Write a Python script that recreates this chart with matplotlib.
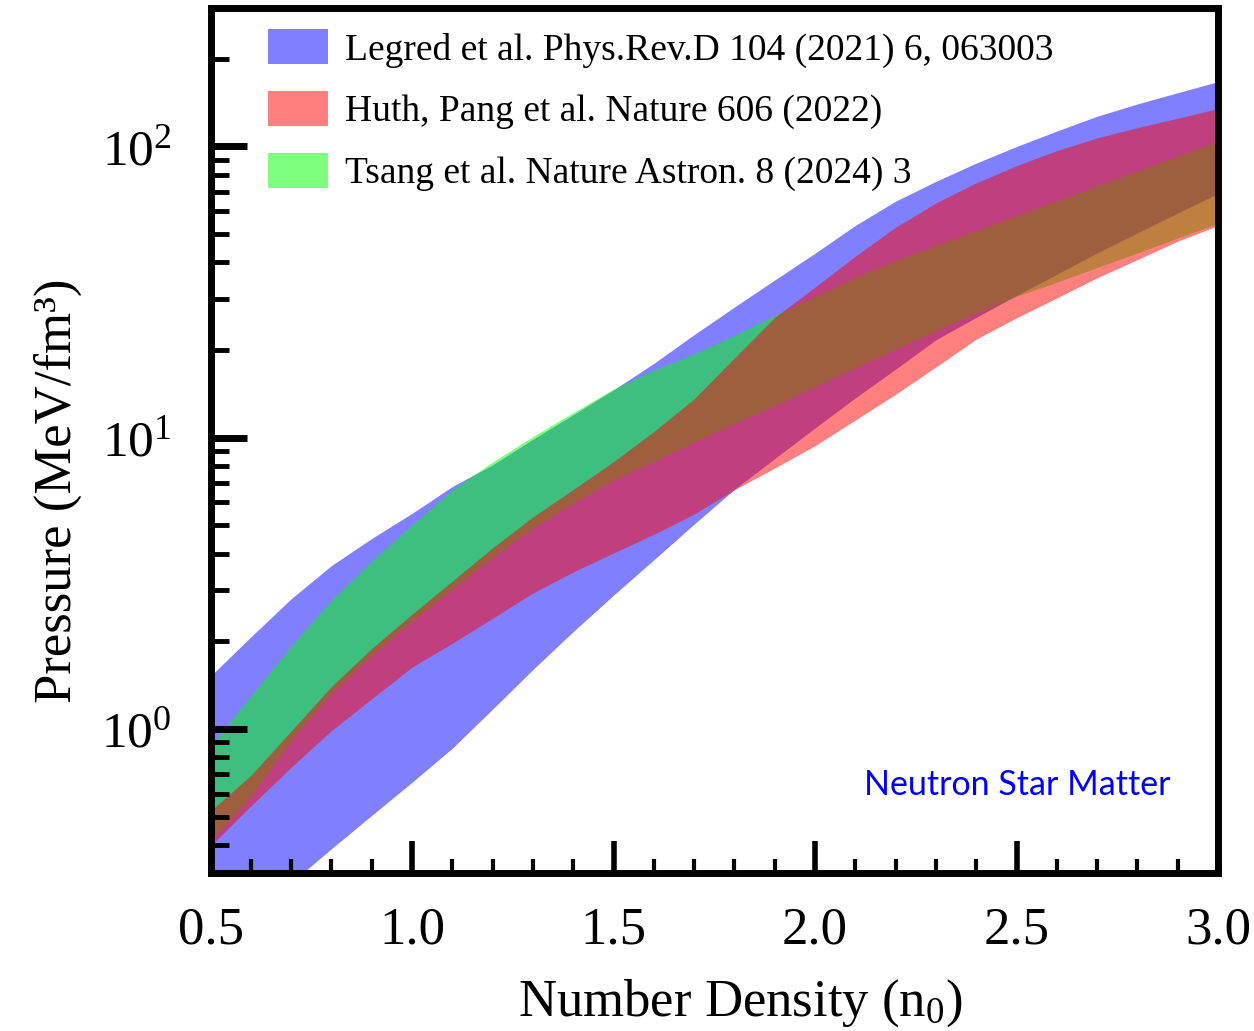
import matplotlib
matplotlib.use('Agg')
import matplotlib.pyplot as plt
from matplotlib.patches import Patch
from matplotlib.ticker import MultipleLocator, LogLocator

# number density grid (n0)
n = [0.5, 0.6, 0.7, 0.8, 0.9, 1.0, 1.1, 1.2, 1.3, 1.4, 1.5, 1.6, 1.7,
     1.8, 1.9, 2.0, 2.1, 2.2, 2.3, 2.4, 2.5, 2.6, 2.7, 2.8, 2.9, 3.0]

# pressure bands (MeV/fm^3), upper and lower edges
legred_hi = [1.52, 2.07, 2.80, 3.64, 4.51, 5.50, 6.80, 8.07, 9.88, 12.0, 14.6, 18.0, 22.6,
             28.1, 34.8, 43.0, 53.6, 64.9, 75.9, 87.7, 100, 113, 127, 140, 153, 167]
legred_lo = [0.171, 0.224, 0.296, 0.388, 0.505, 0.656, 0.859, 1.17, 1.60, 2.16, 2.88, 3.81, 5.05,
             6.65, 8.48, 10.8, 13.7, 17.2, 21.7, 25.9, 30.8, 36.4, 43.1, 50.5, 59.1, 69.0]
huth_hi = [0.523, 0.693, 0.984, 1.40, 1.89, 2.48, 3.22, 4.19, 5.35, 6.64, 8.28, 10.5, 13.6,
           18.8, 25.9, 32.9, 42.0, 52.8, 64.0, 75.0, 85.9, 96.8, 107, 116, 125, 135]
huth_lo = [0.397, 0.544, 0.739, 0.987, 1.27, 1.63, 1.97, 2.40, 2.93, 3.46, 4.02, 4.66, 5.47,
           6.63, 7.87, 9.39, 11.5, 14.1, 17.5, 21.8, 25.8, 30.2, 35.4, 40.9, 47.3, 53.5]
tsang_hi = [0.875, 1.30, 1.93, 2.77, 3.78, 5.02, 6.64, 8.25, 10.1, 12.2, 14.7, 17.1, 19.4,
            22.5, 26.3, 30.5, 35.6, 40.5, 45.8, 51.4, 57.8, 65.0, 73.3, 82.4, 92.7, 104]
tsang_lo = [0.413, 0.589, 0.915, 1.33, 1.79, 2.35, 3.02, 3.89, 4.90, 5.97, 7.16, 8.30, 9.67,
            11.2, 12.9, 15.0, 17.4, 20.2, 23.3, 26.8, 30.6, 34.2, 38.4, 43.1, 48.5, 54.4]

labels = ['Legred et al. Phys.Rev.D 104 (2021) 6, 063003',
          'Huth, Pang et al. Nature 606 (2022)',
          'Tsang et al. Nature Astron. 8 (2024) 3']

plt.rcParams['font.family'] = 'Liberation Serif'
plt.rcParams['mathtext.fontset'] = 'custom'
plt.rcParams['mathtext.rm'] = 'Liberation Serif'
plt.rcParams['mathtext.it'] = 'Liberation Serif:italic'

fig = plt.figure(figsize=(12.54, 10.31), dpi=100)
ax = fig.add_axes([0.1679, 0.1532, 0.8034, 0.8395])

# draw order: blue, green, red
ax.fill_between(n, legred_lo, legred_hi, color='blue', alpha=0.5, lw=0)
ax.fill_between(n, tsang_lo, tsang_hi, color='lime', alpha=0.5, lw=0)
ax.fill_between(n, huth_lo, huth_hi, color='red', alpha=0.5, lw=0)
# dark red end edges of the Huth band
ax.vlines([n[0], n[-1]], [huth_lo[0], huth_lo[-1]], [huth_hi[0], huth_hi[-1]],
          color='#8b0000', lw=2.5)

ax.set_yscale('log')
ax.set_xlim(0.5, 3.0)
ax.set_ylim(0.32, 300)

ax.xaxis.set_major_locator(MultipleLocator(0.5))
ax.xaxis.set_minor_locator(MultipleLocator(0.1))
ax.yaxis.set_minor_locator(LogLocator(base=10, subs=range(2, 10)))
ax.xaxis.set_major_formatter(matplotlib.ticker.FormatStrFormatter('%.1f'))

for s in ax.spines.values():
    s.set_linewidth(5)
ax.tick_params(axis='x', which='major', direction='in', length=23, width=4, labelsize=38, pad=24)
ax.tick_params(axis='x', which='minor', direction='in', length=10, width=3)
ax.tick_params(axis='y', which='major', direction='in', length=26, width=5, labelsize=37, pad=28)
ax.tick_params(axis='y', which='minor', direction='in', length=13, width=3.5)

ax.set_xlabel('Number Density (n$_0$)', fontsize=38)
ax.set_ylabel('Pressure (MeV/fm³)', fontsize=38)
ax.xaxis.set_label_coords(0.5256, -0.121)
ax.yaxis.set_label_coords(-0.128, 0.442)

handles = [Patch(facecolor='blue', alpha=0.5, edgecolor='none'),
           Patch(facecolor='red', alpha=0.5, edgecolor='none'),
           Patch(facecolor='lime', alpha=0.5, edgecolor='none')]
ax.legend(handles, labels, loc='upper left', bbox_to_anchor=(0.057, 0.975),
          frameon=False, fontsize=27, borderpad=0, borderaxespad=0,
          handlelength=1.6, handleheight=1.07, handletextpad=0.45, labelspacing=0.62)

ax.text(0.8005, 0.1017, 'Neutron Star Matter', transform=ax.transAxes,
        color='blue', fontsize=24.5, family='Lato', ha='center', va='center')

fig.savefig('out.png', dpi=100)
